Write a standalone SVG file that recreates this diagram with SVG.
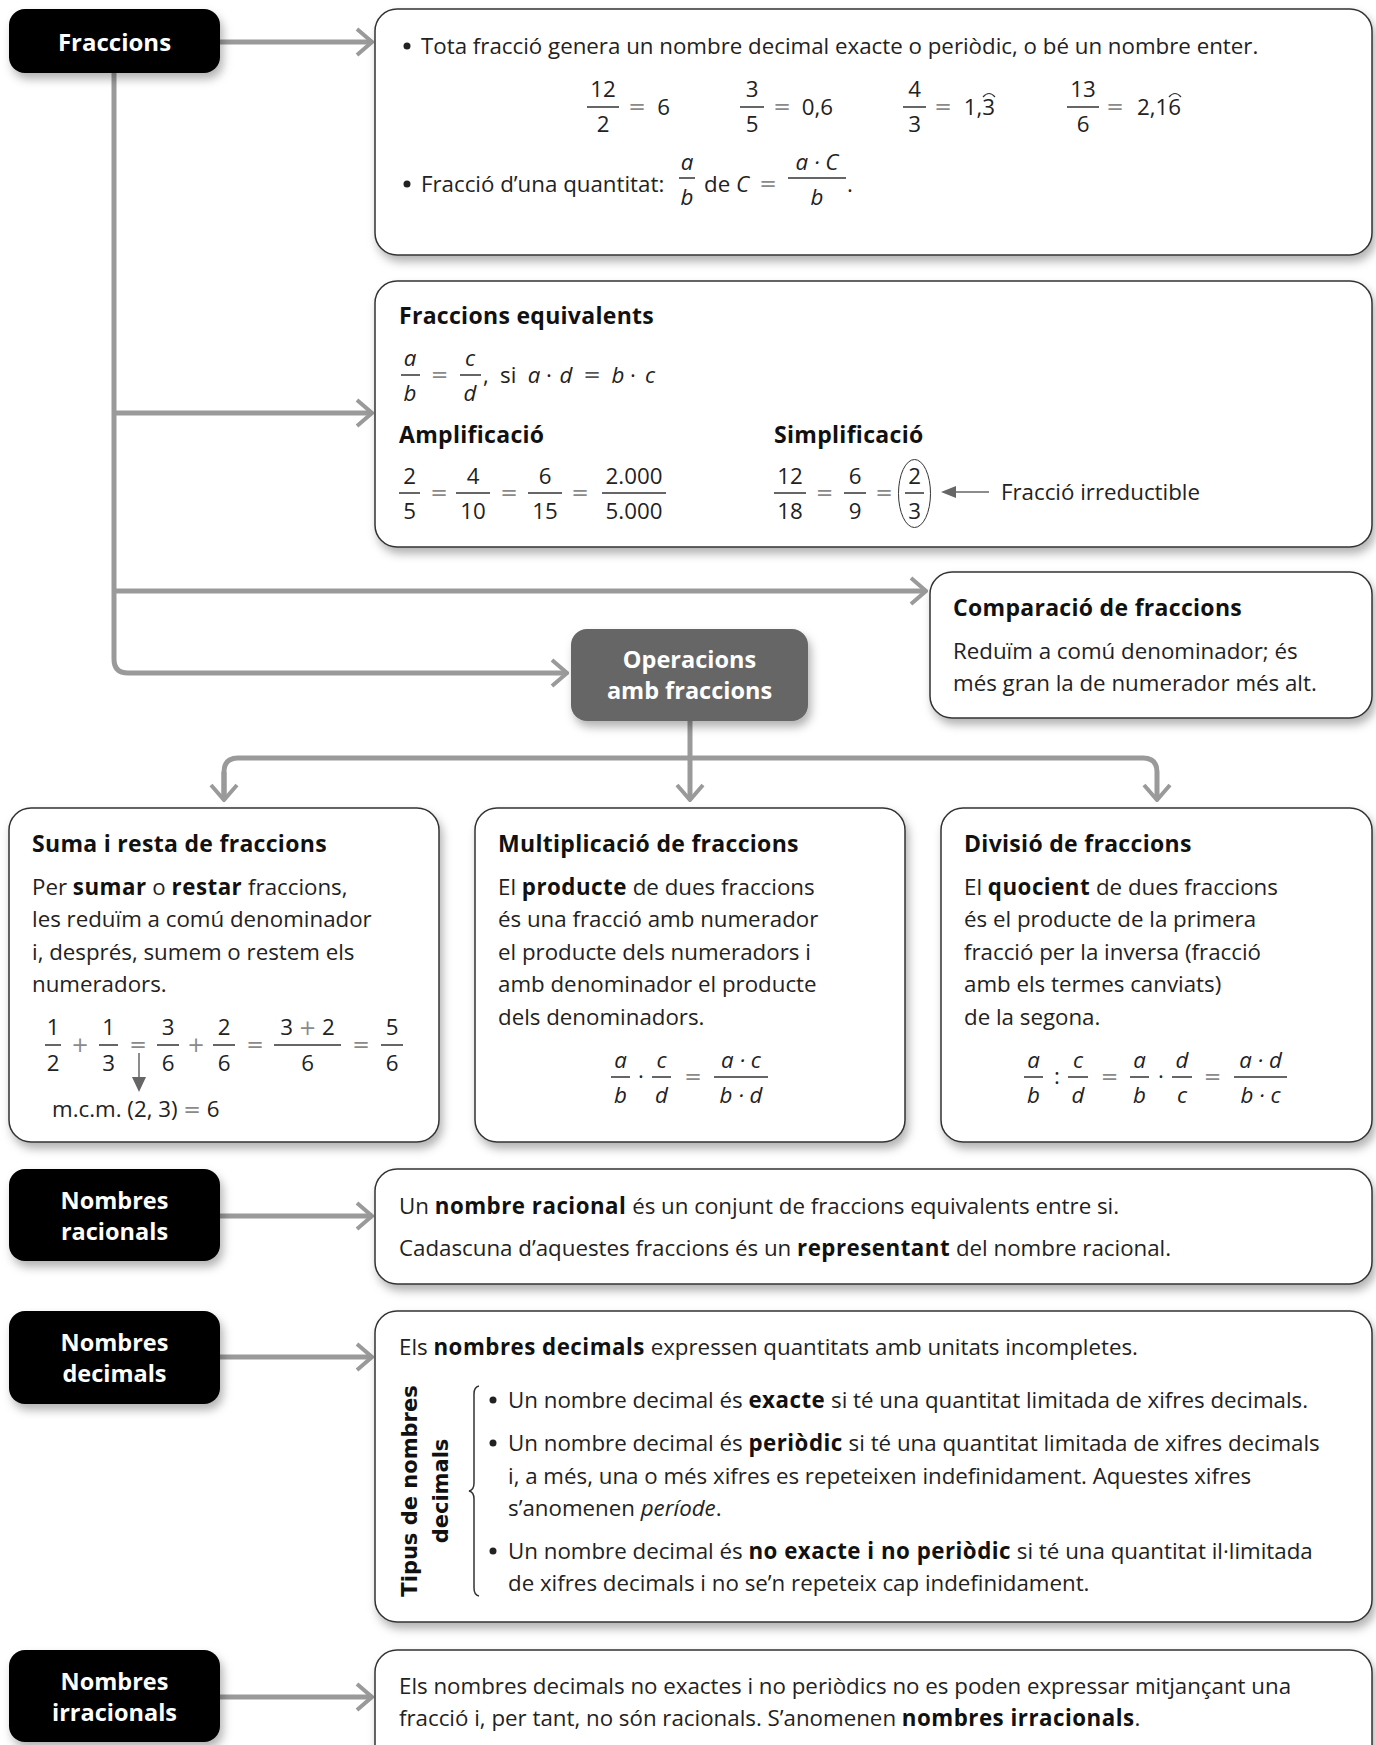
<svg xmlns="http://www.w3.org/2000/svg" width="1376" height="1745" viewBox="0 0 1376 1745">
<defs>
<style>
.t{font-family:'Open Sans','Noto Sans',sans-serif;font-size:22.3px;fill:#222}
.b{font-weight:700;fill:#111;letter-spacing:0.5px}
.hd{font-family:'Open Sans','Noto Sans',sans-serif;font-size:23px;font-weight:700;fill:#111;letter-spacing:0.3px}
.n{font-family:'Open Sans','Noto Sans',sans-serif;font-size:23.5px;font-weight:700;fill:#fff;text-anchor:middle}
.m{text-anchor:middle}
.e{text-anchor:end}
.i{font-style:italic}
.op{font-family:'DejaVu Sans',sans-serif;font-size:21px;fill:#8a8a8a;font-style:normal}
.box{fill:#fff;stroke:#333;stroke-width:1.5}
.blk{fill:#000}
.bar{stroke:#333;stroke-width:1.5}
.dot{fill:#222}
.con{fill:none;stroke:#9a9a9a;stroke-width:5}
</style>
<filter id="sh" x="-10%" y="-10%" width="130%" height="140%">
<feDropShadow dx="3" dy="6" stdDeviation="5" flood-color="#000" flood-opacity="0.3"/>
</filter>
<marker id="chev" viewBox="-18 -16 20 32" refX="0" refY="0" markerWidth="20" markerHeight="32" markerUnits="userSpaceOnUse" orient="auto">
<path d="M-15,-13 L0,0 L-15,13" fill="none" stroke="#9a9a9a" stroke-width="4"/>
</marker>
</defs>
<rect width="1376" height="1745" fill="#fff"/>

<g id="connectors">
<path class="con" d="M220,42 H372" marker-end="url(#chev)"/>
<path class="con" d="M114,73 V659 Q114,673 128,673 H567" marker-end="url(#chev)"/>
<path class="con" d="M114,413 H372" marker-end="url(#chev)"/>
<path class="con" d="M114,591 H926" marker-end="url(#chev)"/>
<path class="con" d="M690,721 V800" marker-end="url(#chev)"/>
<path class="con" d="M224,800 V772 Q224,758 238,758 H1143 Q1157,758 1157,772 V800" marker-end="url(#chev)"/>
<path class="con" d="M224,772 V800" marker-end="url(#chev)"/>
<path class="con" d="M220,1216 H372" marker-end="url(#chev)"/>
<path class="con" d="M220,1357 H372" marker-end="url(#chev)"/>
<path class="con" d="M220,1697 H372" marker-end="url(#chev)"/>
</g>

<g id="fraccions">
<rect class="blk" x="9" y="9" width="211" height="64" rx="16" filter="url(#sh)"/>
<text class="n" x="114.5" y="51" style="font-size:24px">Fraccions</text>
</g>

<g id="box-decimal">
<rect class="box" x="375" y="9" width="997" height="246" rx="22" filter="url(#sh)"/>
<circle class="dot" cx="407" cy="46" r="3.5"/>
<text class="t" x="421" y="54">Tota fracció genera un nombre decimal exacte o periòdic, o bé un nombre enter.</text>
<text class="t m" x="603" y="97">12</text><line class="bar" x1="587" y1="107" x2="619" y2="107"/><text class="t m" x="603" y="132">2</text>
<text class="op m" x="637" y="114">=</text><text class="t e" x="670" y="115">6</text>
<text class="t m" x="752" y="97">3</text><line class="bar" x1="740" y1="107" x2="764" y2="107"/><text class="t m" x="752" y="132">5</text>
<text class="op m" x="782" y="114">=</text><text class="t e" x="833" y="115">0,6</text>
<text class="t m" x="914.5" y="97">4</text><line class="bar" x1="903" y1="107" x2="926" y2="107"/><text class="t m" x="914.5" y="132">3</text>
<text class="op m" x="943" y="114">=</text><text class="t e" x="995" y="115">1,3</text>
<path d="M983,97 Q989,90 995,97" fill="none" stroke="#333" stroke-width="1.2"/>
<text class="t m" x="1083" y="97">13</text><line class="bar" x1="1067" y1="107" x2="1099" y2="107"/><text class="t m" x="1083" y="132">6</text>
<text class="op m" x="1115" y="114">=</text><text class="t e" x="1181" y="115">2,16</text>
<path d="M1169,97 Q1175,90 1181,97" fill="none" stroke="#333" stroke-width="1.2"/>
<circle class="dot" cx="407" cy="184" r="3.5"/>
<text class="t" x="421" y="192">Fracció d’una quantitat:</text>
<text class="t m i" x="687" y="170">a</text><line class="bar" x1="679" y1="178" x2="695" y2="178"/><text class="t m i" x="687" y="205">b</text>
<text class="t" x="704" y="192">de <tspan class="i">C</tspan></text>
<text class="op m" x="768" y="191">=</text>
<text class="t m i" x="817" y="170">a · C</text><line class="bar" x1="788" y1="178" x2="846" y2="178"/><text class="t m i" x="817" y="205">b</text>
<text class="t" x="847" y="192">.</text>
</g>

<g id="box-equivalents">
<rect class="box" x="375" y="281" width="997" height="266" rx="22" filter="url(#sh)"/>
<text class="hd" x="399" y="324">Fraccions equivalents</text>
<text class="t m i" x="410" y="366">a</text><line class="bar" x1="401" y1="375" x2="420" y2="375"/><text class="t m i" x="410" y="401">b</text>
<text class="op m" x="439.5" y="382">=</text>
<text class="t m i" x="470" y="366">c</text><line class="bar" x1="460" y1="375" x2="481" y2="375"/><text class="t m i" x="470" y="401">d</text>
<text class="t" x="483" y="383">,</text>
<text class="t" x="500" y="383">si</text>
<text class="t i m" x="534" y="383">a</text>
<text class="t m" x="549" y="383">·</text>
<text class="t i m" x="566" y="383">d</text>
<text class="op m" x="592" y="382" style="fill:#555">=</text>
<text class="t i m" x="618" y="383">b</text>
<text class="t m" x="633" y="383">·</text>
<text class="t i m" x="650" y="383">c</text>
<text class="hd" x="399" y="443">Amplificació</text>
<text class="hd" x="774" y="443">Simplificació</text>
<text class="t m" x="409.5" y="484">2</text><line class="bar" x1="399" y1="493" x2="420" y2="493"/><text class="t m" x="409.5" y="519">5</text>
<text class="op m" x="439" y="500">=</text>
<text class="t m" x="473" y="484">4</text><line class="bar" x1="456" y1="493" x2="490" y2="493"/><text class="t m" x="473" y="519">10</text>
<text class="op m" x="509" y="500">=</text>
<text class="t m" x="545" y="484">6</text><line class="bar" x1="528" y1="493" x2="562" y2="493"/><text class="t m" x="545" y="519">15</text>
<text class="op m" x="580" y="500">=</text>
<text class="t m" x="634" y="484">2.000</text><line class="bar" x1="602" y1="493" x2="666" y2="493"/><text class="t m" x="634" y="519">5.000</text>
<text class="t m" x="790" y="484">12</text><line class="bar" x1="774" y1="493" x2="806" y2="493"/><text class="t m" x="790" y="519">18</text>
<text class="op m" x="824.5" y="500">=</text>
<text class="t m" x="855" y="484">6</text><line class="bar" x1="844" y1="493" x2="866" y2="493"/><text class="t m" x="855" y="519">9</text>
<text class="op m" x="884" y="500">=</text>
<text class="t m" x="914.5" y="484">2</text><line class="bar" x1="905" y1="493" x2="924" y2="493"/><text class="t m" x="914.5" y="519">3</text>
<ellipse cx="914.5" cy="493.5" rx="16" ry="34" fill="none" stroke="#333" stroke-width="1"/>
<line x1="989" y1="492" x2="954" y2="492" stroke="#666" stroke-width="1.5"/>
<path d="M941,492 L956,486 L956,498 Z" fill="#666"/>
<text class="t" x="1001" y="500">Fracció irreductible</text>
</g>

<g id="comparacio">
<rect class="box" x="930" y="572" width="442" height="146" rx="22" filter="url(#sh)"/>
<text class="hd" x="953" y="616">Comparació de fraccions</text>
<text class="t" x="953" y="659">Reduïm a comú denominador; és</text>
<text class="t" x="953" y="691">més gran la de numerador més alt.</text>
</g>

<g id="operacions">
<rect x="571" y="629" width="237" height="92" rx="16" fill="#666" filter="url(#sh)"/>
<text class="n" x="689.5" y="668">Operacions</text>
<text class="n" x="689.5" y="699">amb fraccions</text>
</g>

<g id="suma">
<rect class="box" x="9" y="808" width="430" height="334" rx="22" filter="url(#sh)"/>
<text class="hd" x="32" y="852">Suma i resta de fraccions</text>
<text class="t" x="32" y="895">Per <tspan class="b">sumar</tspan> o <tspan class="b">restar</tspan> fraccions,</text>
<text class="t" x="32" y="927">les reduïm a comú denominador</text>
<text class="t" x="32" y="960">i, després, sumem o restem els</text>
<text class="t" x="32" y="992">numeradors.</text>
<text class="t m" x="53" y="1035">1</text><line class="bar" x1="45" y1="1045" x2="61" y2="1045"/><text class="t m" x="53" y="1071">2</text>
<text class="op m" x="80" y="1052">+</text>
<text class="t m" x="108.5" y="1035">1</text><line class="bar" x1="99" y1="1045" x2="118" y2="1045"/><text class="t m" x="108.5" y="1071">3</text>
<text class="op m" x="138" y="1052">=</text>
<text class="t m" x="168" y="1035">3</text><line class="bar" x1="157" y1="1045" x2="179" y2="1045"/><text class="t m" x="168" y="1071">6</text>
<text class="op m" x="196" y="1052">+</text>
<text class="t m" x="224" y="1035">2</text><line class="bar" x1="213" y1="1045" x2="235" y2="1045"/><text class="t m" x="224" y="1071">6</text>
<text class="op m" x="255" y="1052">=</text>
<text class="t m" x="307.5" y="1035">3 <tspan class="op">+</tspan> 2</text><line class="bar" x1="274" y1="1045" x2="341" y2="1045"/><text class="t m" x="307.5" y="1071">6</text>
<text class="op m" x="361" y="1052">=</text>
<text class="t m" x="392" y="1035">5</text><line class="bar" x1="381" y1="1045" x2="403" y2="1045"/><text class="t m" x="392" y="1071">6</text>
<line x1="139" y1="1053" x2="139" y2="1078" stroke="#666" stroke-width="1.5"/>
<path d="M132,1077 L146,1077 L139,1092 Z" fill="#666"/>
<text class="t" x="52" y="1117">m.c.m. (2, 3) <tspan class="op">=</tspan> 6</text>
</g>

<g id="multiplicacio">
<rect class="box" x="475" y="808" width="430" height="334" rx="22" filter="url(#sh)"/>
<text class="hd" x="498" y="852">Multiplicació de fraccions</text>
<text class="t" x="498" y="895">El <tspan class="b">producte</tspan> de dues fraccions</text>
<text class="t" x="498" y="927">és una fracció amb numerador</text>
<text class="t" x="498" y="960">el producte dels numeradors i</text>
<text class="t" x="498" y="992">amb denominador el producte</text>
<text class="t" x="498" y="1025">dels denominadors.</text>
<text class="t m i" x="620.5" y="1068">a</text><line class="bar" x1="611" y1="1077" x2="630" y2="1077"/><text class="t m i" x="620.5" y="1103">b</text>
<text class="t m" x="641" y="1084">·</text>
<text class="t m i" x="661.5" y="1068">c</text><line class="bar" x1="652" y1="1077" x2="671" y2="1077"/><text class="t m i" x="661.5" y="1103">d</text>
<text class="op m" x="693" y="1084">=</text>
<text class="t m i" x="741" y="1068">a · c</text><line class="bar" x1="714" y1="1077" x2="768" y2="1077"/><text class="t m i" x="741" y="1103">b · d</text>
</g>

<g id="divisio">
<rect class="box" x="941" y="808" width="431" height="334" rx="22" filter="url(#sh)"/>
<text class="hd" x="964" y="852">Divisió de fraccions</text>
<text class="t" x="964" y="895">El <tspan class="b">quocient</tspan> de dues fraccions</text>
<text class="t" x="964" y="927">és el producte de la primera</text>
<text class="t" x="964" y="960">fracció per la inversa (fracció</text>
<text class="t" x="964" y="992">amb els termes canviats)</text>
<text class="t" x="964" y="1025">de la segona.</text>
<text class="t m i" x="1033.5" y="1068">a</text><line class="bar" x1="1024" y1="1077" x2="1043" y2="1077"/><text class="t m i" x="1033.5" y="1103">b</text>
<text class="t m" x="1057" y="1084">:</text>
<text class="t m i" x="1078" y="1068">c</text><line class="bar" x1="1068" y1="1077" x2="1088" y2="1077"/><text class="t m i" x="1078" y="1103">d</text>
<text class="op m" x="1109.5" y="1084">=</text>
<text class="t m i" x="1139.5" y="1068">a</text><line class="bar" x1="1130" y1="1077" x2="1149" y2="1077"/><text class="t m i" x="1139.5" y="1103">b</text>
<text class="t m" x="1161" y="1084">·</text>
<text class="t m i" x="1182" y="1068">d</text><line class="bar" x1="1172" y1="1077" x2="1192" y2="1077"/><text class="t m i" x="1182" y="1103">c</text>
<text class="op m" x="1212.5" y="1084">=</text>
<text class="t m i" x="1260.5" y="1068">a · d</text><line class="bar" x1="1234" y1="1077" x2="1287" y2="1077"/><text class="t m i" x="1260.5" y="1103">b · c</text>
</g>

<g id="racionals">
<rect class="blk" x="9" y="1169" width="211" height="92" rx="16" filter="url(#sh)"/>
<text class="n" x="114.5" y="1209">Nombres</text>
<text class="n" x="114.5" y="1240">racionals</text>
</g>
<g id="racionals-text">
<rect class="box" x="375" y="1169" width="997" height="115" rx="22" filter="url(#sh)"/>
<text class="t" x="399" y="1214">Un <tspan class="b">nombre racional</tspan> és un conjunt de fraccions equivalents entre si.</text>
<text class="t" x="399" y="1256">Cadascuna d’aquestes fraccions és un <tspan class="b">representant</tspan> del nombre racional.</text>
</g>

<g id="decimals">
<rect class="blk" x="9" y="1311" width="211" height="93" rx="16" filter="url(#sh)"/>
<text class="n" x="114.5" y="1351">Nombres</text>
<text class="n" x="114.5" y="1382">decimals</text>
</g>
<g id="decimals-text">
<rect class="box" x="375" y="1311" width="997" height="311" rx="22" filter="url(#sh)"/>
<text class="t" x="399" y="1355">Els <tspan class="b">nombres decimals</tspan> expressen quantitats amb unitats incompletes.</text>
<text transform="translate(417,1491) rotate(-90)" x="0" y="0" text-anchor="middle" style="font-family:'DejaVu Sans',sans-serif;font-size:21px;font-weight:700;fill:#111">Tipus de nombres</text>
<text transform="translate(448,1491) rotate(-90)" x="0" y="0" text-anchor="middle" style="font-family:'DejaVu Sans',sans-serif;font-size:21px;font-weight:700;fill:#111">decimals</text>
<path d="M479,1386 Q474,1387 474,1394 V1483 Q474,1490 469,1491 Q474,1492 474,1499 V1588 Q474,1595 479,1596" fill="none" stroke="#333" stroke-width="1.5"/>
<circle class="dot" cx="493" cy="1400" r="3.5"/>
<text class="t" x="508" y="1408">Un nombre decimal és <tspan class="b">exacte</tspan> si té una quantitat limitada de xifres decimals.</text>
<circle class="dot" cx="493" cy="1443" r="3.5"/>
<text class="t" x="508" y="1451">Un nombre decimal és <tspan class="b">periòdic</tspan> si té una quantitat limitada de xifres decimals</text>
<text class="t" x="508" y="1484">i, a més, una o més xifres es repeteixen indefinidament. Aquestes xifres</text>
<text class="t" x="508" y="1516">s’anomenen <tspan class="i">període</tspan>.</text>
<circle class="dot" cx="493" cy="1551" r="3.5"/>
<text class="t" x="508" y="1559">Un nombre decimal és <tspan class="b">no exacte i no periòdic</tspan> si té una quantitat il·limitada</text>
<text class="t" x="508" y="1591">de xifres decimals i no se’n repeteix cap indefinidament.</text>
</g>

<g id="irracionals">
<rect class="blk" x="9" y="1650" width="211" height="92" rx="16" filter="url(#sh)"/>
<text class="n" x="114.5" y="1690">Nombres</text>
<text class="n" x="114.5" y="1721">irracionals</text>
</g>
<g id="irracionals-text">
<rect class="box" x="375" y="1650" width="997" height="130" rx="22" filter="url(#sh)"/>
<text class="t" x="399" y="1694">Els nombres decimals no exactes i no periòdics no es poden expressar mitjançant una</text>
<text class="t" x="399" y="1726">fracció i, per tant, no són racionals. S’anomenen <tspan class="b">nombres irracionals</tspan>.</text>
</g>
</svg>
